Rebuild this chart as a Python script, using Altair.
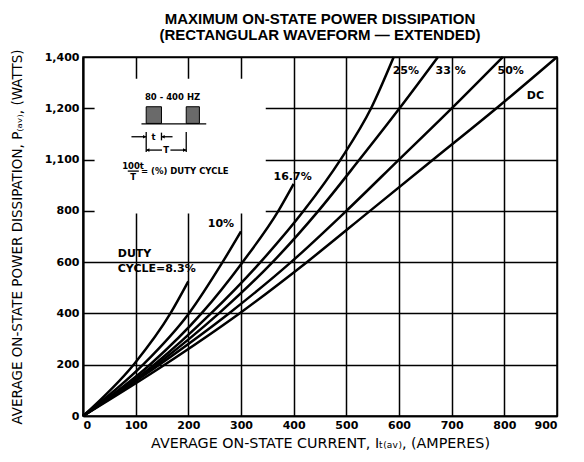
import altair as alt
import pandas as pd

# ---- curve data (current A, power W) ----
curve_names = ["8.3%", "10%", "16.7%", "25%", "33%", "50%", "DC"]
i_83 = [0, 98, 166, 200]
p_83 = [0, 205, 400, 525]
i_10 = [0, 114, 201, 265, 300]
p_10 = [0, 200, 400, 600, 720]
i_167 = [0, 127, 225, 303, 371, 400]
p_167 = [0, 200, 400, 600, 800, 905]
i_25 = [0, 135, 243, 337, 419, 489, 547, 590]
p_25 = [0, 200, 400, 600, 800, 1000, 1200, 1400]
i_33 = [0, 140, 258, 360, 447, 525, 601, 674]
p_33 = [0, 200, 400, 600, 800, 1000, 1200, 1400]
i_50 = [0, 145, 277, 395, 500, 600, 700, 797]
p_50 = [0, 200, 400, 600, 800, 1000, 1200, 1400]
i_dc = [0, 155, 297, 425, 545, 665, 785, 900]
p_dc = [0, 200, 400, 600, 800, 1000, 1200, 1400]

x_ticks = [0, 100, 200, 300, 400, 500, 600, 700, 800, 900]
y_ticks = [0, 200, 400, 600, 800, 1000, 1200, 1400]
y_tick_labels = ["0", "200", "400", "600", "800", "1,100", "1,200", "1,400"]

# curve label annotations
lab_text = ["10%", "16.7%", "25%", "33 %", "50%", "DC"]
lab_x = [262, 398, 613, 698, 812, 859]
lab_y = [749, 932, 1345, 1345, 1345, 1248]
duty_text = ["DUTY", "CYCLE=8.3%"]
duty_x = [66, 66]
duty_y = [632, 573]

series = [(i_83, p_83), (i_10, p_10), (i_167, p_167), (i_25, p_25),
          (i_33, p_33), (i_50, p_50), (i_dc, p_dc)]
rows = []
for name, (xs, ys) in zip(curve_names, series):
    for a, b in zip(xs, ys):
        rows.append({"I": a, "P": b, "curve": name})
df = pd.DataFrame(rows)

X = alt.Scale(domain=[0, 900], nice=False, zero=False)
Y = alt.Scale(domain=[0, 1400], nice=False, zero=False)

label_expr = "{" + ",".join(f"'{v}':'{t}'" for v, t in zip(y_ticks, y_tick_labels)) + "}[datum.value]"

TICKFONT = "DejaVu Sans"

base_x = alt.X("I:Q", scale=X,
               axis=alt.Axis(values=x_ticks, grid=True, ticks=False,
                             title="AVERAGE ON-STATE CURRENT, Iₜ₍ₐᵥ₎, (AMPERES)",
                             titleFont="DejaVu Sans", titleFontSize=14.3, titleFontWeight="normal",
                             titlePadding=6, labelFont=TICKFONT, labelFontSize=11,
                             labelFontWeight="bold", labelPadding=3, labelColor="black",
                             titleColor="black", domainColor="black", domainWidth=1.5,
                             gridColor="black", gridWidth=1.5, gridOpacity=1))
base_y = alt.Y("P:Q", scale=Y,
               axis=alt.Axis(values=y_ticks, grid=True, ticks=False, labelExpr=label_expr,
                             title="AVERAGE ON-STATE POWER DISSIPATION, P₍ₐᵥ₎, (WATTS)",
                             titleFont="DejaVu Sans", titleFontSize=13.5, titleFontWeight="normal",
                             titlePadding=20, labelFont=TICKFONT, labelFontSize=11,
                             labelFontWeight="bold", labelPadding=4, labelColor="black",
                             titleColor="black", domainColor="black", domainWidth=2,
                             gridColor="black", gridWidth=1.5, gridOpacity=1))

curves = alt.Chart(df).mark_line(color="black", strokeWidth=2.5, interpolate="monotone").encode(
    x=base_x, y=base_y, detail="curve:N", order="I:Q")

# white area behind the inset (grid is broken there in the reference)
mask = alt.Chart(pd.DataFrame({"I": [22], "I2": [347], "P": [790], "P2": [1315]})).mark_rect(
    fill="white").encode(x=alt.X("I:Q", scale=X), x2="I2", y=alt.Y("P:Q", scale=Y), y2="P2")

labels = alt.Chart(pd.DataFrame({"I": lab_x, "P": lab_y, "t": lab_text})).mark_text(
    font=TICKFONT, fontSize=11, fontWeight="bold", color="black").encode(
    x=alt.X("I:Q", scale=X), y=alt.Y("P:Q", scale=Y), text="t:N")

duty = alt.Chart(pd.DataFrame({"I": duty_x, "P": duty_y, "t": duty_text})).mark_text(
    font=TICKFONT, fontSize=11, fontWeight="bold", color="black", align="left").encode(
    x=alt.X("I:Q", scale=X), y=alt.Y("P:Q", scale=Y), text="t:N")

# ---- inset schematic (in data units) ----
pulse_df = pd.DataFrame({"I": [120, 196], "I2": [149, 221], "P": [1141, 1141], "P2": [1206, 1206]})
pulses = alt.Chart(pulse_df).mark_rect(fill="#6a6a6a", stroke="black", strokeWidth=1).encode(
    x=alt.X("I:Q", scale=X), x2="I2", y=alt.Y("P:Q", scale=Y), y2="P2")

seg_df = pd.DataFrame({
    "I":  [111, 120, 196, 149, 92, 149, 120, 166, 85],
    "I2": [234, 120, 196, 149, 120, 170, 150, 196, 106],
    "P":  [1139, 1030, 1030, 1075, 1089, 1089, 1037, 1037, 955],
    "P2": [1139, 1108, 1108, 1105, 1089, 1089, 1037, 1037, 955],
})
segs = alt.Chart(seg_df).mark_rule(color="black", strokeWidth=1.3).encode(
    x=alt.X("I:Q", scale=X), x2="I2", y=alt.Y("P:Q", scale=Y), y2="P2")

arrow_df = pd.DataFrame({"I": [117, 152, 123, 193], "P": [1089, 1089, 1037, 1037],
                         "s": ["triangle-right", "triangle-left", "triangle-left", "triangle-right"]})
arrows = alt.Chart(arrow_df).mark_point(filled=True, color="black", size=14, opacity=1).encode(
    x=alt.X("I:Q", scale=X), y=alt.Y("P:Q", scale=Y),
    shape=alt.Shape("s:N", scale=None))

inset_text = ["80 - 400 HZ", "t", "T", "100t", "T"]
inset_x = [170, 134, 158, 95, 95]
inset_y = [1244, 1089, 1037, 975, 932]
itext = alt.Chart(pd.DataFrame({"I": inset_x, "P": inset_y, "t": inset_text})).mark_text(
    font=TICKFONT, fontSize=8.5, fontWeight="bold", color="black").encode(
    x=alt.X("I:Q", scale=X), y=alt.Y("P:Q", scale=Y), text="t:N")
itext2 = alt.Chart(pd.DataFrame({"I": [110], "P": [955], "t": ["= (%) DUTY CYCLE"]})).mark_text(
    font=TICKFONT, fontSize=8.5, fontWeight="bold", color="black", align="left").encode(
    x=alt.X("I:Q", scale=X), y=alt.Y("P:Q", scale=Y), text="t:N")

chart = alt.layer(mask, curves, pulses, segs, arrows, itext, itext2, labels, duty).properties(
    width=474, height=359,
    autosize=alt.AutoSizeParams(type="none"),
    padding={"left": 75, "top": 49, "right": 19, "bottom": 38},
    title=alt.TitleParams(["MAXIMUM ON-STATE POWER DISSIPATION",
                           "(RECTANGULAR WAVEFORM — EXTENDED)"],
                          font="Liberation Sans", fontSize=15, fontWeight="bold",
                          color="black", anchor="middle", lineHeight=16, offset=6),
).configure_view(stroke="black", strokeWidth=1.5)

chart.save("out.html", embed_options={"renderer": "svg", "actions": False})
